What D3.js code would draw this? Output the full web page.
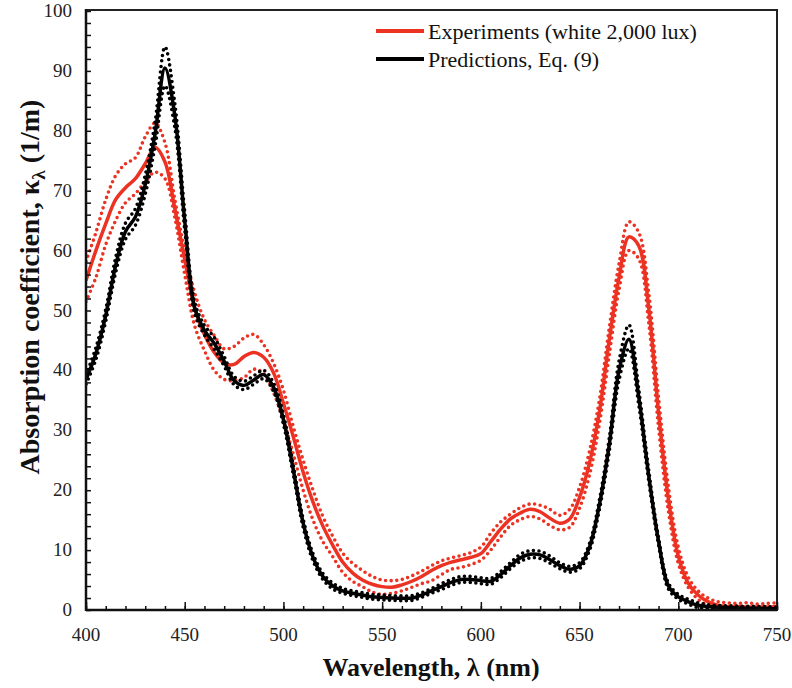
<!DOCTYPE html>
<html>
<head>
<meta charset="utf-8">
<script src="https://cdn.jsdelivr.net/npm/d3@7"></script>
<style>
  body { margin: 0; background: #fff; }
  .tickText { font-family: "Liberation Serif", "Times New Roman", serif; font-size: 19px; fill: #222; }
  .axTitle { font-family: "Liberation Serif", "Times New Roman", serif; font-size: 26px; font-weight: bold; fill: #111; }
  .legText { font-family: "Liberation Serif", "Times New Roman", serif; font-size: 22px; fill: #111; }
</style>
</head>
<body>
<div id="chart"></div>
<script>
// Wavelength grid (nm), 5 nm steps
var wavelength = d3.range(400, 751, 5);

// Experiments (white 2,000 lux) - mean and the dotted bounds
var expMean = [55, 60, 64.5, 68.5, 70.5, 72, 74.5, 77.2, 74.8, 67, 58.5, 50.5, 46, 43, 41.2, 41, 42.3, 43, 42.2, 39.6,
  34.5, 28.9, 23, 18, 14, 10.8, 8, 6.2, 5, 4.3, 3.9, 3.8, 4.2, 4.8, 5.6, 6.6, 7.4, 8, 8.4, 8.8,
  9.4, 11.4, 13.5, 15.2, 16.2, 16.8, 16.4, 15.3, 14.5, 15.2, 18.8, 24.5, 33, 45, 55.5, 62.3, 60.8, 50.5, 33, 18.5,
  9, 4.5, 2.5, 1.4, 0.8, 0.6, 0.6, 0.5, 0.5, 0.5, 0.6];
var expUpper = [58.2, 63, 68.5, 72.5, 74.5, 75.5, 79, 81.3, 78, 68.5, 60, 53, 48.5, 45.8, 43.6, 44, 45.4, 46, 44.3, 41.2,
  36.7, 30.6, 25, 20, 15.6, 12.3, 9.5, 7.8, 6.6, 5.6, 5, 4.9, 5.1, 5.7, 6.5, 7.4, 8.2, 8.7, 9.1, 9.6,
  10.5, 12.8, 14.7, 16, 17.1, 17.7, 17.5, 16.8, 15.8, 16.8, 20.5, 26.5, 35, 47, 57.8, 64.8, 63, 53, 35.5, 20.5,
  10.5, 5.5, 3.2, 2, 1.4, 1.2, 1.1, 1.2, 1, 1.1, 1.2];
var expLower = [51.5, 55.5, 61, 65, 68, 69.5, 71.5, 73.1, 72, 65.5, 56, 47.5, 43.3, 40, 38.5, 38.3, 38.8, 40.2, 39.5, 36.3,
  31.7, 26, 20, 15, 11.4, 8.9, 6.3, 4.8, 3.9, 3, 2.6, 2.8, 3.2, 3.8, 4.4, 4.9, 5.9, 6.8, 7.1, 7.6,
  8.3, 10, 12.2, 14.1, 15.1, 15.6, 15.2, 14.1, 13.4, 13.8, 17, 22.5, 31, 42.5, 53.5, 60, 58.6, 48, 30.5, 16.5,
  7.8, 3.8, 1.8, 0.8, 0.2, 0.1, 0.1, 0, 0.1, 0, 0.1];

// Predictions, Eq. (9) - mean and the dotted bounds
var predMean = [38.5, 42.8, 49.2, 57.5, 63.2, 65.6, 71, 79.5, 90.5, 82.5, 65, 50.5, 46.7, 44.5, 41.5, 38.3, 37.5, 38.4, 39.3, 37.2,
  31.8, 23.4, 14.5, 8.8, 5.6, 4, 3.2, 2.8, 2.5, 2.2, 2.1, 2, 1.95, 2, 2.5, 3.2, 3.9, 4.6, 5.1, 5.1,
  4.9, 4.8, 5.9, 7.4, 8.7, 9.3, 9.2, 8.4, 7.4, 6.8, 7.4, 10.5, 17.5, 27.5, 40, 45.2, 35.5, 22.5, 11.5, 4,
  2.2, 1.4, 0.8, 0.6, 0.45, 0.4, 0.35, 0.3, 0.3, 0.25, 0.2];
var predUpper = [39.3, 43.8, 50.2, 58.8, 64.6, 67, 72.6, 81.5, 94, 84.5, 66.5, 51.5, 47.5, 45.5, 42.3, 39, 38.2, 39.1, 40, 37.9,
  32.6, 24.2, 15.2, 9.4, 6.1, 4.5, 3.6, 3.2, 2.9, 2.6, 2.5, 2.4, 2.35, 2.4, 2.9, 3.6, 4.4, 5.1, 5.6, 5.6,
  5.4, 5.3, 6.4, 7.9, 9.3, 9.9, 9.8, 9, 7.9, 7.3, 7.9, 11.1, 18.3, 28.6, 41.6, 47.6, 36.8, 23.4, 12.1, 4.5,
  2.6, 1.8, 1.2, 0.9, 0.75, 0.7, 0.65, 0.6, 0.6, 0.55, 0.5];
var predLower = [37.7, 41.8, 48.2, 56.3, 61.9, 64.2, 69.4, 77.5, 87.5, 80.5, 63.5, 49.5, 45.9, 43.5, 40.7, 37.6, 36.8, 37.7, 38.6, 36.5,
  31, 22.6, 13.8, 8.2, 5.1, 3.5, 2.8, 2.4, 2.1, 1.8, 1.7, 1.6, 1.55, 1.6, 2.1, 2.8, 3.4, 4.1, 4.6, 4.6,
  4.4, 4.3, 5.4, 6.9, 8.1, 8.7, 8.6, 7.8, 6.9, 6.3, 6.9, 9.9, 16.7, 26.4, 38.4, 43.6, 34.2, 21.6, 10.9, 3.5,
  1.8, 1, 0.4, 0.3, 0.15, 0.1, 0.05, 0, 0, 0, 0];

var xTickValues = [400, 450, 500, 550, 600, 650, 700, 750];
var yTickValues = [0, 10, 20, 30, 40, 50, 60, 70, 80, 90, 100];
var legendLabels = ["Experiments (white 2,000 lux)", "Predictions, Eq. (9)"];

var red = "#ec3323";
var black = "#000";

var width = 792;
var height = 688;
var plotLeft = 86, plotRight = 777, plotTop = 11, plotBottom = 610;

var svg = d3.select("#chart")
  .append("svg")
  .attr("width", width)
  .attr("height", height);

var xScale = d3.scaleLinear().domain([400, 750]).range([plotLeft, plotRight]);
var yScale = d3.scaleLinear().domain([0, 100]).range([plotBottom, plotTop]);

// Frame (top and right)
svg.append("rect")
  .attr("x", plotLeft)
  .attr("y", plotTop - 1)
  .attr("width", plotRight - plotLeft)
  .attr("height", plotBottom - plotTop + 1)
  .attr("fill", "none")
  .attr("stroke", "#222")
  .attr("stroke-width", 2);

// Clip for the data
svg.append("clipPath").attr("id", "plotClip")
  .append("rect")
  .attr("x", plotLeft)
  .attr("y", plotTop - 2)
  .attr("width", plotRight - plotLeft)
  .attr("height", plotBottom - plotTop + 2);

function makeLine(values) {
  return d3.line()
    .x(function(d, i) { return xScale(wavelength[i]); })
    .y(function(d) { return yScale(d); })
    .curve(d3.curveCatmullRom.alpha(0.5))(values);
}

var plot = svg.append("g").attr("clip-path", "url(#plotClip)");

function dotted(values, color) {
  plot.append("path")
    .attr("d", makeLine(values))
    .attr("fill", "none")
    .attr("stroke", color)
    .attr("stroke-width", 3.6)
    .attr("stroke-linecap", "round")
    .attr("stroke-dasharray", "0,5.6");
}

function solid(values, color) {
  plot.append("path")
    .attr("d", makeLine(values))
    .attr("fill", "none")
    .attr("stroke", color)
    .attr("stroke-width", 3.5)
    .attr("stroke-linejoin", "round");
}

dotted(expUpper, red);
dotted(expLower, red);
solid(expMean, red);
dotted(predUpper, black);
dotted(predLower, black);
solid(predMean, black);

// Axes with inside ticks
var xMinor = svg.append("g")
  .attr("transform", "translate(0," + plotBottom + ")")
  .call(d3.axisTop(xScale).tickValues(d3.range(400, 751, 10)).tickSize(4).tickFormat(""));
var xMajor = svg.append("g")
  .attr("transform", "translate(0," + plotBottom + ")")
  .call(d3.axisTop(xScale).tickValues(xTickValues).tickSize(8).tickFormat(""));
var yMinor = svg.append("g")
  .attr("transform", "translate(" + plotLeft + ",0)")
  .call(d3.axisRight(yScale).tickValues(d3.range(0, 101, 2)).tickSize(5).tickFormat(""));

[xMinor, xMajor, yMinor].forEach(function(g) {
  g.select(".domain").remove();
  g.selectAll("line").attr("stroke", "#111").attr("stroke-width", 1.5);
});

// Axis lines
svg.append("line")
  .attr("x1", plotLeft).attr("x2", plotRight)
  .attr("y1", plotBottom).attr("y2", plotBottom)
  .attr("stroke", "#111").attr("stroke-width", 2.5);
svg.append("line")
  .attr("x1", plotLeft).attr("x2", plotLeft)
  .attr("y1", plotTop - 2).attr("y2", plotBottom + 1)
  .attr("stroke", "#111").attr("stroke-width", 2.5);

// Tick labels
svg.selectAll(".xLab")
  .data(xTickValues)
  .enter()
  .append("text")
  .attr("class", "tickText")
  .attr("x", function(d) { return xScale(d); })
  .attr("y", 641)
  .attr("text-anchor", "middle")
  .text(function(d) { return d; });

svg.selectAll(".yLab")
  .data(yTickValues)
  .enter()
  .append("text")
  .attr("class", "tickText")
  .attr("x", 72)
  .attr("y", function(d) { return yScale(d) + 6; })
  .attr("text-anchor", "end")
  .text(function(d) { return d; });

// Axis titles
svg.append("text")
  .attr("class", "axTitle")
  .attr("x", 431)
  .attr("y", 676)
  .attr("text-anchor", "middle")
  .text("Wavelength, λ (nm)");

var yTitle = svg.append("text")
  .attr("class", "axTitle")
  .attr("font-size", "28px")
  .style("font-size", "28px")
  .attr("transform", "translate(39,287)rotate(-90)")
  .attr("text-anchor", "middle");
yTitle.append("tspan").text("Absorption coefficient, κ");
yTitle.append("tspan").attr("dy", 6).style("font-size", "19px").text("λ");
yTitle.append("tspan").attr("dy", -6).text(" (1/m)");

// Legend
var legend = svg.append("g");
[red, black].forEach(function(c, i) {
  var ly = 31 + i * 28;
  legend.append("line")
    .attr("x1", 376).attr("x2", 424)
    .attr("y1", ly).attr("y2", ly)
    .attr("stroke", c)
    .attr("stroke-width", 4);
  legend.append("text")
    .attr("class", "legText")
    .attr("x", 428)
    .attr("y", ly + 8)
    .text(legendLabels[i]);
});
</script>
</body>
</html>
